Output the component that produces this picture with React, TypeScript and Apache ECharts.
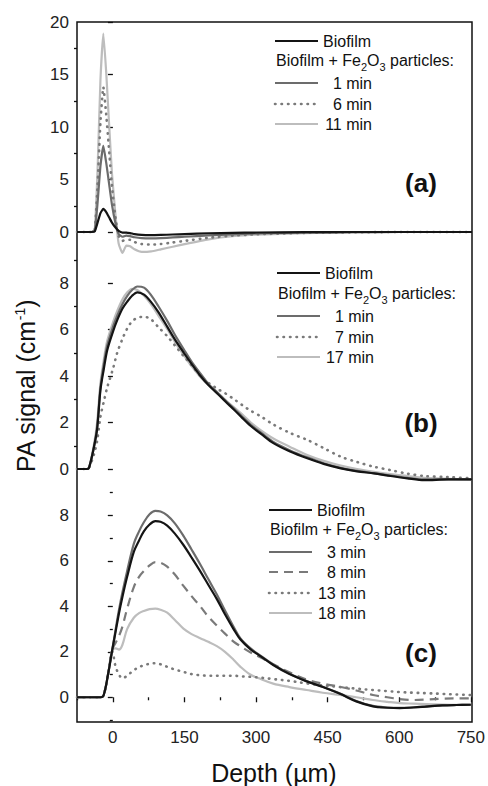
import React, { useEffect, useRef } from 'react';
import * as echarts from 'echarts';

// ---------------- data ----------------
// Panel (a)
const depthA = [-75, -45, -38, -32, -26, -20, -14, -8, -2, 5, 12, 20, 28, 36, 45, 60, 80, 100, 125, 150, 200, 250, 300, 400, 500, 600, 750];
const biofilmA = [0, 0, 0.05, 0.9, 1.8, 2.2, 1.9, 1.4, 0.9, 0.45, 0.1, -0.05, -0.05, -0.1, -0.2, -0.28, -0.3, -0.28, -0.24, -0.2, -0.12, -0.08, -0.05, -0.02, 0, 0, 0];
const oneMinA = [0, 0, 0.1, 2.8, 6.3, 8.2, 6.6, 4.6, 2.6, 0.9, -0.2, -0.45, -0.35, -0.4, -0.5, -0.58, -0.6, -0.58, -0.52, -0.45, -0.32, -0.22, -0.14, -0.05, -0.02, 0, 0];
const sixMinA = [0, 0, 0.15, 4.5, 10.5, 13.8, 11.2, 7.8, 4.4, 1.5, -0.4, -0.85, -0.7, -0.75, -0.95, -1.15, -1.2, -1.15, -1.0, -0.85, -0.55, -0.35, -0.22, -0.08, -0.03, 0, 0];
const elevenMinA = [0, 0, 0.2, 6, 14.5, 18.9, 15.2, 10.3, 5.6, 1.8, -1.1, -2.0, -1.3, -1.35, -1.65, -1.9, -1.85, -1.65, -1.4, -1.15, -0.7, -0.4, -0.25, -0.1, -0.04, 0, 0];

// Panel (b)
const depthB = [-75, -55, -50, -40, -33, -26, -19, -12, 0, 9, 20, 30, 40, 51, 65, 79, 95, 114, 130, 148, 165, 183, 200, 218, 235, 253, 270, 288, 310, 336, 370, 406, 440, 476, 510, 545, 580, 615, 650, 700, 750];
const biofilmB = [0, 0, 0.05, 0.9, 1.7, 3.4, 4.3, 5.1, 5.9, 6.4, 6.9, 7.2, 7.45, 7.6, 7.5, 7.2, 6.75, 6.1, 5.55, 5.0, 4.5, 4.0, 3.6, 3.25, 2.9, 2.55, 2.2, 1.85, 1.5, 1.1, 0.75, 0.46, 0.22, 0.03, -0.1, -0.19, -0.3, -0.4, -0.48, -0.45, -0.45];
const oneMinB = [0, 0, 0.05, 0.9, 1.8, 3.5, 4.5, 5.3, 6.1, 6.6, 7.1, 7.45, 7.7, 7.85, 7.8, 7.5, 7.0, 6.35, 5.75, 5.15, 4.6, 4.1, 3.65, 3.3, 2.95, 2.6, 2.25, 1.9, 1.55, 1.15, 0.8, 0.5, 0.25, 0.05, -0.08, -0.18, -0.28, -0.38, -0.45, -0.45, -0.45];
const sevenMinB = [0, 0, 0.05, 0.6, 1.2, 2.25, 2.9, 3.5, 4.3, 5.0, 5.6, 6.05, 6.35, 6.5, 6.55, 6.45, 6.1, 5.7, 5.3, 4.85, 4.45, 4.0, 3.7, 3.45, 3.25, 3.0, 2.75, 2.5, 2.25, 1.9, 1.55, 1.25, 0.9, 0.53, 0.3, 0.1, -0.05, -0.2, -0.3, -0.35, -0.4];
const seventeenMinB = [0, 0, 0.05, 1.0, 2.0, 3.7, 4.7, 5.5, 6.3, 6.8, 7.3, 7.6, 7.75, 7.7, 7.45, 7.1, 6.6, 6.0, 5.45, 4.9, 4.4, 3.95, 3.6, 3.25, 2.95, 2.65, 2.35, 2.0, 1.65, 1.3, 0.95, 0.6, 0.35, 0.15, 0.0, -0.12, -0.22, -0.3, -0.38, -0.42, -0.45];

// Panel (c)
const depthC = [-75, -40, -25, -19, -10, -1, 6, 13, 20, 30, 44, 55, 65, 77, 89, 100, 114, 130, 148, 165, 183, 200, 218, 235, 253, 267, 288, 310, 336, 370, 406, 440, 476, 510, 545, 575, 601, 630, 657, 690, 720, 750];
const biofilmC = [0, 0, 0, 0.1, 1.0, 2.1, 2.9, 3.7, 4.4, 5.3, 6.4, 6.9, 7.3, 7.6, 7.75, 7.72, 7.55, 7.2, 6.7, 6.15, 5.55, 4.95, 4.32, 3.65, 3.0, 2.55, 2.12, 1.8, 1.42, 1.02, 0.7, 0.45, 0.15, -0.18, -0.4, -0.46, -0.48, -0.45, -0.41, -0.36, -0.34, -0.33];
const threeMinC = [0, 0, 0, 0.1, 1.0, 2.1, 3.0, 3.85, 4.6, 5.55, 6.75, 7.3, 7.7, 8.05, 8.2, 8.17, 8.0, 7.65, 7.1, 6.5, 5.85, 5.2, 4.52, 3.82, 3.1, 2.6, 2.16, 1.82, 1.45, 1.05, 0.72, 0.46, 0.16, -0.16, -0.38, -0.45, -0.47, -0.44, -0.4, -0.36, -0.34, -0.33];
const eightMinC = [0, 0, 0, 0.1, 1.0, 2.1, 2.4, 2.7, 3.1, 3.9, 4.85, 5.3, 5.55, 5.8, 5.95, 5.92, 5.75, 5.4, 4.9, 4.45, 4.0, 3.55, 3.15, 2.8, 2.45, 2.25, 1.98, 1.75, 1.45, 1.1, 0.78, 0.6, 0.46, 0.3, 0.1, 0.0, -0.08, -0.12, -0.1, -0.06, -0.05, -0.05];
const thirteenMinC = [0, 0, 0, 0.1, 1.0, 2.0, 1.34, 1.0, 0.83, 0.95, 1.19, 1.32, 1.41, 1.47, 1.5, 1.45, 1.34, 1.22, 1.12, 1.02, 0.97, 0.95, 0.95, 0.95, 0.95, 0.92, 0.9, 0.86, 0.8, 0.72, 0.61, 0.52, 0.45, 0.38, 0.32, 0.27, 0.23, 0.2, 0.18, 0.15, 0.12, 0.1];
const eighteenMinC = [0, 0, 0, 0.1, 1.0, 2.1, 2.15, 2.1, 2.3, 3.0, 3.5, 3.7, 3.8, 3.88, 3.9, 3.85, 3.72, 3.4, 3.02, 2.78, 2.6, 2.44, 2.25, 2.0, 1.65, 1.35, 1.0, 0.8, 0.6, 0.45, 0.32, 0.2, 0.1, 0.0, -0.12, -0.2, -0.26, -0.28, -0.3, -0.32, -0.33, -0.33];

// Axis ticks
const xLabels = [0, 150, 300, 450, 600, 750];
const xMinor = [-75, 75, 225, 375, 525, 675];
const yLabelsA = [0, 5, 10, 15, 20];
const yMinorA = [2.5, 7.5, 12.5, 17.5];
const yLabelsB = [0, 2, 4, 6, 8];
const yMinorB = [1, 3, 5, 7, 9];
const yLabelsC = [0, 2, 4, 6, 8];
const yMinorC = [-1, 1, 3, 5, 7, 9];

const FONT = '"Liberation Sans", Arial, Helvetica, sans-serif';

type LineDef = { color: string; width: number; type: any; cap?: string };
const STYLES: Record<string, LineDef> = {
  biofilm: { color: '#141414', width: 2.2, type: 'solid' },
  early: { color: '#6c6c6c', width: 2.2, type: 'solid' },
  dotted: { color: '#7a7a7a', width: 2.6, type: [0.5, 6], cap: 'round' },
  dashed: { color: '#7a7a7a', width: 2.2, type: [9, 6] },
  late: { color: '#bdbdbd', width: 2.2, type: 'solid' },
};

type Entry = { name: string; values: number[]; style: string };
const seriesA: Entry[] = [
  { name: 'Biofilm', values: biofilmA, style: 'biofilm' },
  { name: '1 min', values: oneMinA, style: 'early' },
  { name: '6 min', values: sixMinA, style: 'dotted' },
  { name: '11 min', values: elevenMinA, style: 'late' },
];
const seriesB: Entry[] = [
  { name: 'Biofilm', values: biofilmB, style: 'biofilm' },
  { name: '1 min', values: oneMinB, style: 'early' },
  { name: '7 min', values: sevenMinB, style: 'dotted' },
  { name: '17 min', values: seventeenMinB, style: 'late' },
];
const seriesC: Entry[] = [
  { name: 'Biofilm', values: biofilmC, style: 'biofilm' },
  { name: '3 min', values: threeMinC, style: 'early' },
  { name: '8 min', values: eightMinC, style: 'dashed' },
  { name: '13 min', values: thirteenMinC, style: 'dotted' },
  { name: '18 min', values: eighteenMinC, style: 'late' },
];

const zip = (xs: number[], ys: number[]) => xs.map((x, i) => [x, ys[i]]);

function makeSeries(entries: Entry[], depth: number[], xi: number, yi: number, smooth: number | boolean) {
  return entries
    .slice()
    .reverse()
    .map((e) => {
      const s = STYLES[e.style];
      return {
        type: 'line',
        name: e.name,
        xAxisIndex: xi,
        yAxisIndex: yi,
        data: zip(depth, e.values),
        showSymbol: false,
        symbol: 'none',
        smooth,
        clip: false,
        lineStyle: { color: s.color, width: s.width, type: s.type, cap: s.cap || 'butt', join: 'round' },
        z: 3,
      };
    });
}

function legendGraphics(entries: Entry[], lineX: number, rowYs: number[]) {
  const els: any[] = [];
  entries.forEach((e, i) => {
    const row = i === 0 ? 0 : i + 1;
    const y = rowYs[row];
    const s = STYLES[e.style];
    els.push({
      type: 'line',
      shape: { x1: lineX, y1: y, x2: lineX + 43, y2: y },
      style: {
        stroke: s.color,
        lineWidth: s.width,
        lineDash: Array.isArray(s.type) ? s.type : null,
        lineCap: s.cap || 'butt',
      },
      z: 10,
    });
    els.push({
      type: 'text',
      x: i === 0 ? lineX + 48 : lineX + 97,
      y,
      style: {
        text: e.name,
        fill: '#111',
        fontSize: 16,
        fontFamily: FONT,
        align: i === 0 ? 'left' : 'right',
        verticalAlign: 'middle',
      },
      z: 10,
    });
  });
  els.push({
    type: 'text',
    x: lineX + 1,
    y: rowYs[1],
    style: {
      text: '{n|Biofilm + Fe}{s|2}{n|O}{s|3}{n| particles:}',
      fill: '#111',
      fontFamily: FONT,
      verticalAlign: 'middle',
      rich: {
        n: { fontSize: 16, fontFamily: FONT, fill: '#111', lineHeight: 20, verticalAlign: 'top' },
        s: { fontSize: 11, fontFamily: FONT, fill: '#111', lineHeight: 12, verticalAlign: 'bottom' },
      },
    },
    z: 10,
  });
  return els;
}

function yAxisPair(grid: number, min: number, max: number, labels: number[], minor: number[]) {
  return [
    {
      type: 'value',
      gridIndex: grid,
      position: 'left',
      min,
      max,
      axisLine: { show: false },
      splitLine: { show: false },
      axisTick: { show: true, customValues: labels, length: 5, lineStyle: { color: '#111', width: 1.3 } },
      axisLabel: { show: true, customValues: labels, margin: 8, color: '#222', fontSize: 17, fontFamily: FONT },
    },
    {
      type: 'value',
      gridIndex: grid,
      position: 'left',
      min,
      max,
      axisLine: { show: false },
      splitLine: { show: false },
      axisTick: { show: true, customValues: minor, length: 3, lineStyle: { color: '#111', width: 1.3 } },
      axisLabel: { show: false, customValues: minor },
    },
  ];
}

export default function App() {
  const ref = useRef<HTMLDivElement>(null);
  useEffect(() => {
    if (!ref.current) return;
    const chart = echarts.init(ref.current, null, { renderer: 'svg' });
    const L = 77;
    const R = 16;
    const hiddenX = (grid: number) => ({ type: 'value', gridIndex: grid, min: -75, max: 750, show: false });
    const option: any = {
      animation: false,
      backgroundColor: '#fff',
      textStyle: { fontFamily: FONT },
      grid: [
        { left: L, right: R, top: 22, height: 210 },
        { left: L, right: R, top: 236.5, height: 232.5 },
        { left: L, right: R, top: 470, height: 252 },
        { left: L, right: R, top: 22, height: 700, show: true, borderColor: '#111', borderWidth: 1.5, backgroundColor: 'transparent', z: 1 },
      ],
      xAxis: [
        hiddenX(0),
        hiddenX(1),
        {
          type: 'value',
          gridIndex: 2,
          min: -75,
          max: 750,
          position: 'bottom',
          axisLine: { show: false },
          splitLine: { show: false },
          axisTick: { show: true, customValues: xLabels, length: 5, lineStyle: { color: '#111', width: 1.3 } },
          axisLabel: { show: true, customValues: xLabels, margin: 9, color: '#222', fontSize: 17, fontFamily: FONT },
          name: 'Depth (µm)',
          nameLocation: 'middle',
          nameGap: 40,
          nameTextStyle: { fontSize: 25, color: '#111', fontFamily: FONT },
        },
        hiddenX(3),
        {
          type: 'value',
          gridIndex: 2,
          min: -75,
          max: 750,
          position: 'bottom',
          axisLine: { show: false },
          splitLine: { show: false },
          axisTick: { show: true, customValues: xMinor, length: 3, lineStyle: { color: '#111', width: 1.3 } },
          axisLabel: { show: false, customValues: xMinor },
        },
      ],
      yAxis: [
        ...yAxisPair(0, 0, 20, yLabelsA, yMinorA),
        ...yAxisPair(1, 0, 10, yLabelsB, yMinorB),
        ...yAxisPair(2, -1, 10, yLabelsC, yMinorC),
        { type: 'value', gridIndex: 3, min: 0, max: 1, show: false },
      ],
      series: [
        ...makeSeries(seriesA, depthA, 0, 0, 0.15),
        ...makeSeries(seriesB, depthB, 1, 2, 0.3),
        ...makeSeries(seriesC, depthC, 2, 4, 0.35),
        { type: 'line', xAxisIndex: 3, yAxisIndex: 6, data: [], silent: true },
      ],
      graphic: [
        ...legendGraphics(seriesA, 275, [41, 62, 83, 104, 124]),
        ...legendGraphics(seriesB, 277, [273, 295, 316, 337, 357]),
        ...legendGraphics(seriesC, 269, [510, 531, 552, 572, 593, 613]),
        { type: 'text', x: 421, y: 183, style: { text: '(a)', fontSize: 26, fontWeight: 'bold', fontFamily: FONT, fill: '#111', align: 'center', verticalAlign: 'middle' }, z: 10 },
        { type: 'text', x: 421, y: 423, style: { text: '(b)', fontSize: 26, fontWeight: 'bold', fontFamily: FONT, fill: '#111', align: 'center', verticalAlign: 'middle' }, z: 10 },
        { type: 'text', x: 421, y: 653, style: { text: '(c)', fontSize: 26, fontWeight: 'bold', fontFamily: FONT, fill: '#111', align: 'center', verticalAlign: 'middle' }, z: 10 },
        {
          type: 'text',
          x: 28,
          y: 386,
          rotation: Math.PI / 2,
          style: {
            text: '{n|PA signal (cm}{sup|-1}{n|)}',
            align: 'center',
            verticalAlign: 'middle',
            fill: '#111',
            fontFamily: FONT,
            rich: {
              n: { fontSize: 25, fontFamily: FONT, fill: '#111', lineHeight: 30, verticalAlign: 'top' },
              sup: { fontSize: 14, fontFamily: FONT, fill: '#111', lineHeight: 16, verticalAlign: 'top' },
            },
          },
          z: 10,
        },
      ],
    };
    chart.setOption(option);
    return () => chart.dispose();
  }, []);
  return <div ref={ref} style={{ position: 'fixed', left: 0, top: 0, width: 488, height: 786 }} />;
}
